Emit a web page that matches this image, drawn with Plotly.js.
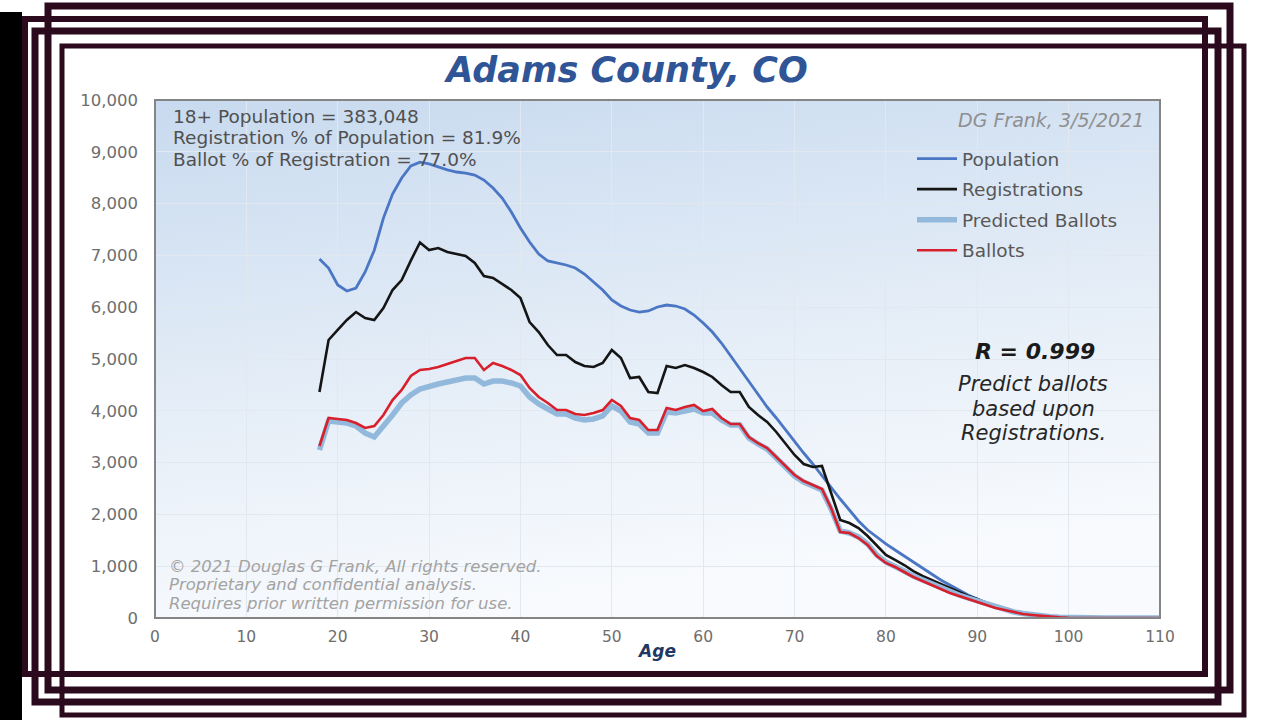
<!DOCTYPE html>
<html>
<head>
<meta charset="utf-8">
<script src="https://cdn.plot.ly/plotly-3.0.1.min.js"></script>
<style>
  html, body { margin:0; padding:0; background:#ffffff; }
  #chart { width:1280px; height:720px; }
</style>
</head>
<body>
<div id="chart"></div>
<script>
// ---------------- DATA ----------------
const ages = [];
for (let a = 18; a <= 110; a++) ages.push(a);

const population = [
  6930,6757,6430,6313,6370,6680,7100,7720,8185,8494,
  8726,8800,8765,8706,8650,8610,8590,8552,8455,8300,
  8108,7838,7529,7259,7027,6892,6853,6815,6757,6640,
  6486,6332,6139,6023,5946,5907,5927,6004,6042,6023,
  5965,5849,5695,5521,5309,5058,4807,4556,4305,4073,
  3861,3629,3398,3185,2973,2741,2510,2297,2085,1873,
  1699,1564,1429,1313,1197,1081,965,849,734,637,
  541,444,367,290,232,174,135,97,68,48,
  30,18,10,6,4,2,1,1,0,0,
  0,0,0
];

const registrations = [
  4363,5367,5560,5753,5907,5792,5753,5985,6332,6525,
  6900,7250,7104,7143,7066,7027,6988,6853,6602,6564,
  6448,6332,6178,5714,5521,5270,5077,5077,4942,4865,
  4846,4923,5174,5019,4633,4653,4363,4344,4865,4826,
  4884,4826,4749,4653,4498,4363,4363,4073,3919,3784,
  3591,3378,3147,2973,2915,2934,2432,1892,1834,1737,
  1583,1390,1216,1120,1023,907,811,734,656,579,
  502,425,367,290,232,174,135,97,68,46,
  28,16,8,5,3,2,1,1,0,0,
  0,0,0
];

const predictedBallots = [
  3243,3803,3784,3764,3707,3571,3494,3687,3919,4151,
  4305,4421,4479,4517,4556,4595,4633,4633,4517,4575,
  4575,4537,4479,4266,4131,4035,3938,3938,3861,3822,
  3842,3900,4093,3996,3784,3745,3571,3571,3977,3957,
  3996,4035,3957,3957,3822,3726,3726,3475,3359,3263,
  3089,2915,2741,2625,2548,2471,2104,1680,1641,1564,
  1429,1216,1081,1004,907,811,734,656,579,502,
  444,386,328,270,212,154,116,87,58,40,
  24,14,7,4,2,1,1,0,0,0,
  0,0,0
];

const ballots = [
  3320,3861,3842,3822,3764,3668,3707,3919,4208,4402,
  4672,4788,4807,4846,4903,4961,5019,5019,4788,4923,
  4865,4788,4691,4440,4266,4151,4015,4015,3938,3919,
  3957,4015,4208,4093,3861,3822,3629,3629,4054,4015,
  4073,4112,3996,4035,3861,3745,3745,3494,3378,3282,
  3108,2934,2761,2645,2568,2490,2124,1660,1641,1544,
  1409,1197,1062,985,888,792,714,637,560,483,
  425,367,309,251,193,154,116,77,58,38,
  22,12,6,3,2,1,1,0,0,0,
  0,0,0
];

const xTicks = [0,10,20,30,40,50,60,70,80,90,100,110];
const yTicks = [0,1000,2000,3000,4000,5000,6000,7000,8000,9000,10000];
const yTickText = ['0','1,000','2,000','3,000','4,000','5,000','6,000','7,000','8,000','9,000','10,000'];

const infoLines = ['18+ Population = 383,048','Registration % of Population = 81.9%','Ballot % of Registration = 77.0%'];
const noteLines = ['Predict ballots','based upon','Registrations.'];
const copyLines = ['© 2021 Douglas G Frank, All rights reserved.','Proprietary and confidential analysis.','Requires prior written permission for use.'];

// ---------------- LAYOUT HELPERS ----------------
const W = 1280, H = 720;
const PL = 155, PR = 1160, PT = 100, PB = 618;
const px = x => (x - PL) / (PR - PL);
const py = y => (PB - y) / (PB - PT);
const FONT = 'DejaVu Sans';
const FRAME = '#2b0a1e';

function frameRect(x0, y0, x1, y1, w) {
  return {type:'rect', xref:'paper', yref:'paper', layer:'above',
    x0:px(x0), x1:px(x1), y0:py(y1), y1:py(y0),
    line:{color:FRAME, width:w}, fillcolor:'rgba(0,0,0,0)'};
}

const gradSvg = "<svg xmlns='http://www.w3.org/2000/svg' width='200' height='100' preserveAspectRatio='none'>" +
  "<defs><linearGradient id='g' x1='0' y1='0' x2='0.25' y2='1'>" +
  "<stop offset='0' stop-color='#c8daef'/><stop offset='0.55' stop-color='#e4edf7'/><stop offset='1' stop-color='#f8fafd'/>" +
  "</linearGradient></defs><rect width='200' height='100' fill='url(#g)'/></svg>";

const traces = [
  {x:ages, y:population, name:'Population', mode:'lines', legendgroup:'a',
   line:{color:'#4a76c4', width:2.8}},
  {x:ages, y:registrations, name:'Registrations', mode:'lines', legendgroup:'b',
   line:{color:'#151515', width:2.6}},
  {x:ages, y:predictedBallots, name:'Predicted Ballots', mode:'lines', legendgroup:'c',
   line:{color:'#92b9dc', width:5.5}},
  {x:ages, y:ballots, name:'Ballots', mode:'lines', legendgroup:'d',
   line:{color:'#d8202c', width:2.6}}
];

const annotations = [];
infoLines.forEach((t, i) => annotations.push({
  text:t, xref:'paper', yref:'paper', x:px(171), y:py(116 + i*21.5),
  xanchor:'left', yanchor:'middle', showarrow:false,
  font:{family:FONT, size:18.5, color:'#505050'}
}));
annotations.push({
  text:'DG Frank, 3/5/2021', xref:'paper', yref:'paper', x:px(1146), y:py(120),
  xanchor:'right', yanchor:'middle', showarrow:false,
  font:{family:FONT, size:19, color:'#8f8f8f', style:'italic'}
});
annotations.push({
  text:'R = 0.999', xref:'paper', yref:'paper', x:px(1035), y:py(351),
  xanchor:'center', yanchor:'middle', showarrow:false,
  font:{family:FONT, size:22, color:'#1a1a1a', style:'italic', weight:'bold'}
});
noteLines.forEach((t, i) => annotations.push({
  text:t, xref:'paper', yref:'paper', x:px(1033), y:py(384 + i*24.5),
  xanchor:'center', yanchor:'middle', showarrow:false,
  font:{family:FONT, size:21, color:'#262626', style:'italic'}
}));
copyLines.forEach((t, i) => annotations.push({
  text:t, xref:'paper', yref:'paper', x:px(167), y:py(566 + i*18.5),
  xanchor:'left', yanchor:'middle', showarrow:false,
  font:{family:FONT, size:16.5, color:'#a3a3a3', style:'italic'}
}));

const shapes = [
  // left black strip
  {type:'rect', xref:'paper', yref:'paper', layer:'above',
   x0:px(0), x1:px(22), y0:py(720), y1:py(12), line:{width:0}, fillcolor:'#000000'},
  frameRect(48, 6, 1230, 690, 7),
  frameRect(35, 31, 1218, 702, 7),
  frameRect(25, 19, 1205, 674, 6),
  frameRect(62, 46, 1244, 715, 5),
  // plot area border
  {type:'rect', xref:'paper', yref:'paper', layer:'above',
   x0:0, x1:1, y0:0, y1:1, line:{color:'#858585', width:2}, fillcolor:'rgba(0,0,0,0)'}
];

const layout = {
  width:W, height:H,
  margin:{l:PL, r:W-PR, t:PT, b:H-PB, pad:0},
  paper_bgcolor:'#ffffff',
  plot_bgcolor:'rgba(0,0,0,0)',
  showlegend:true,
  title:{text:'Adams County, CO', xref:'container', yref:'container',
    x:627/W, y:1-70/H, xanchor:'center', yanchor:'middle',
    font:{family:FONT, size:35, color:'#2f5597', weight:'bold', style:'italic'}},
  xaxis:{range:[0,110], tickvals:xTicks, ticks:'', showgrid:true, gridcolor:'#e2e8ef', gridwidth:1,
    zeroline:false, showline:false, fixedrange:true, ticklabelstandoff:7,
    tickfont:{family:FONT, size:15.5, color:'#6e6e6e'},
    title:{text:'Age', standoff:0, font:{family:FONT, size:17, color:'#1f3864', weight:'bold', style:'italic'}}},
  yaxis:{range:[0,10000], tickvals:yTicks, ticktext:yTickText, ticks:'', showgrid:true, gridcolor:'#e2e8ef', gridwidth:1,
    zeroline:false, showline:false, fixedrange:true, ticklabelstandoff:16,
    tickfont:{family:FONT, size:16.5, color:'#6e6e6e'}},
  legend:{x:px(912), y:py(140), xanchor:'left', yanchor:'top', bgcolor:'rgba(0,0,0,0)', borderwidth:0,
    traceorder:'grouped', tracegroupgap:3.5, itemwidth:40,
    font:{family:FONT, size:18.5, color:'#575757'}},
  images:[{source:'data:image/svg+xml;charset=utf-8,' + encodeURIComponent(gradSvg),
    xref:'paper', yref:'paper', x:0, y:1, sizex:1, sizey:1, xanchor:'left', yanchor:'top',
    sizing:'stretch', layer:'below'}],
  annotations:annotations,
  shapes:shapes
};

Plotly.newPlot('chart', traces, layout, {displayModeBar:false, staticPlot:true});
</script>
</body>
</html>
